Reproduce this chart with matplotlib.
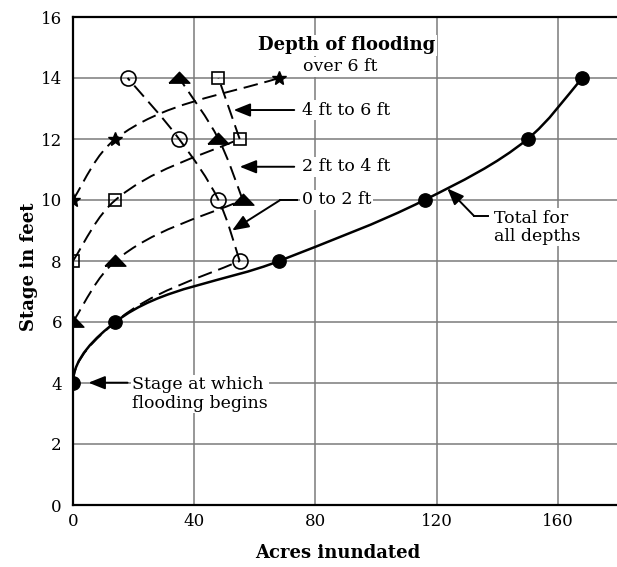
import matplotlib as mpl
mpl.use('Agg')
import numpy as np
import matplotlib.pyplot as plt
from matplotlib.path import Path
from matplotlib.patches import PathPatch

plt.rcParams['font.family'] = ['DejaVu Serif']

# stage (ft) vs acres inundated
total_x = [0, 14, 68, 116, 150, 168]
total_y = [4, 6, 8, 10, 12, 14]

d0_2_x = [0, 14, 55, 48, 35, 18]      # 0 to 2 ft (open circles)
d0_2_y = [4, 6, 8, 10, 12, 14]

d2_4_x = [0, 14, 56, 48, 35]          # 2 ft to 4 ft (triangles)
d2_4_y = [6, 8, 10, 12, 14]

d4_6_x = [0, 14, 55, 48]              # 4 ft to 6 ft (squares)
d4_6_y = [8, 10, 12, 14]

d6_x = [0, 14, 68]                    # over 6 ft (stars)
d6_y = [10, 12, 14]

x_ticks = [0, 40, 80, 120, 160]
y_ticks = [0, 2, 4, 6, 8, 10, 12, 14, 16]

# rough px per data unit, only used so the curve tangents look right on screen
SX, SY = 3.03, 30.5


def unit(v):
    return v / np.hypot(v[0], v[1])


def smooth_path(xs, ys, vertical_start=False, k=0.2):
    p = np.column_stack([np.array(xs, float) * SX, np.array(ys, float) * SY])
    n = len(p)
    chords = [p[i + 1] - p[i] for i in range(n - 1)]
    t = [None] * n
    for i in range(1, n - 1):
        t[i] = unit(unit(chords[i - 1]) + unit(chords[i]))
    if n == 2:
        t[0] = t[1] = unit(chords[0])
    else:
        c0 = unit(chords[0])
        t[0] = unit(c0 + k * (c0 - t[1]))
        c1 = unit(chords[-1])
        t[-1] = unit(c1 + k * (c1 - t[-2]))
    if vertical_start:
        t[0] = np.array([0.0, 1.0])
    verts = [p[0]]
    codes = [Path.MOVETO]
    for i in range(n - 1):
        L = np.hypot(*chords[i]) / 3.0
        verts += [p[i] + t[i] * L, p[i + 1] - t[i + 1] * L, p[i + 1]]
        codes += [Path.CURVE4] * 3
    verts = np.array(verts) / [SX, SY]
    return Path(verts, codes)


def draw_curve(ax, xs, ys, vertical_start=False, **kw):
    k = int(np.argmax(xs))
    pieces = [(xs[:k + 1], ys[:k + 1], vertical_start)]
    if k < len(xs) - 1:
        pieces.append((xs[k:], ys[k:], False))
    for px, py, vs in pieces:
        if len(px) < 2:
            continue
        ax.add_patch(PathPatch(smooth_path(px, py, vs), fill=False, **kw))


fig = plt.figure(figsize=(6.17, 5.67), dpi=100)
ax = fig.add_axes([73 / 617, 62 / 567, 544 / 617, 488 / 567])
ax.set_xlim(0, 179.5)
ax.set_ylim(0, 16)
ax.set_xticks(x_ticks)
ax.set_yticks(y_ticks)
ax.tick_params(length=0, labelsize=12)
ax.tick_params(axis='x', pad=6)
ax.tick_params(axis='y', pad=8)
ax.grid(True, color='#7a7a7a', linewidth=1.1)
ax.set_axisbelow(True)
ax.spines['right'].set_visible(False)
for s in ['left', 'bottom', 'top']:
    ax.spines[s].set_linewidth(1.6)

dash = dict(color='black', linewidth=1.4, linestyle=(0, (7.5, 3.5)), zorder=3)
draw_curve(ax, total_x, total_y, vertical_start=True, color='black', linewidth=1.8, zorder=4)
draw_curve(ax, d0_2_x, d0_2_y, vertical_start=True, **dash)
draw_curve(ax, d2_4_x, d2_4_y, **dash)
draw_curve(ax, d4_6_x, d4_6_y, **dash)
draw_curve(ax, d6_x, d6_y, **dash)

tri = [(-1, -0.45), (1, -0.45), (0, 0.6), (-1, -0.45)]
ax.plot(total_x, total_y, 'o', color='black', ms=9.6, zorder=5)
ax.plot(d0_2_x[2:], d0_2_y[2:], 'o', mfc='none', mec='black', mew=1.2, ms=10.8, zorder=5)
ax.plot(d2_4_x, d2_4_y, marker=tri, ls='none', color='black', ms=15, zorder=5)
ax.plot(d4_6_x, d4_6_y, 's', mfc='none', mec='black', mew=1.2, ms=8.5, zorder=5)
ax.plot(d6_x, d6_y, '*', color='black', ms=10, zorder=5)

box = dict(facecolor='white', edgecolor='none', pad=1)
arrow = dict(arrowstyle='-|>,head_length=1.0,head_width=0.4', color='black',
             lw=1.4, mutation_scale=10, shrinkA=0, shrinkB=0)
fs = 12.5
fb = 13

ax.text(90.4, 15.08, 'Depth of flooding', fontsize=fb, fontweight='bold',
        ha='center', va='center', bbox=box, zorder=6)
ax.text(76, 14.37, 'over 6 ft', fontsize=fs, ha='left', va='center', bbox=box, zorder=6)

ax.text(75.5, 12.95, '4 ft to 6 ft', fontsize=fs, ha='left', va='center', bbox=box, zorder=6)
ax.annotate('', xy=(53, 12.95), xytext=(73, 12.95), arrowprops=arrow, zorder=6)

ax.text(75.5, 11.09, '2 ft to 4 ft', fontsize=fs, ha='left', va='center', bbox=box, zorder=6)
ax.annotate('', xy=(55, 11.09), xytext=(73, 11.09), arrowprops=arrow, zorder=6)

ax.text(75.5, 10.0, '0 to 2 ft', fontsize=fs, ha='left', va='center', bbox=box, zorder=6)
ax.plot([68.4, 74], [10, 10], color='black', lw=1.4, zorder=6)
ax.annotate('', xy=(52.5, 9.0), xytext=(68.4, 10.0), arrowprops=arrow, zorder=6)

ax.text(139, 9.1, 'Total for\nall depths', fontsize=fs, ha='left', va='center',
        linespacing=1.1, bbox=box, zorder=6)
ax.plot([132.3, 137], [9.48, 9.48], color='black', lw=1.4, zorder=6)
ax.annotate('', xy=(123.5, 10.38), xytext=(132.3, 9.48), arrowprops=arrow, zorder=6)

ax.text(19.5, 3.64, 'Stage at which\nflooding begins', fontsize=fs, ha='left', va='center',
        linespacing=1.1, bbox=box, zorder=6)
ax.annotate('', xy=(5.1, 4.01), xytext=(18, 4.01), arrowprops=arrow, zorder=6)

fig.text(338 / 617, 1 - 553 / 567, 'Acres inundated', fontsize=fb, fontweight='bold',
         ha='center', va='center')
fig.text(29 / 617, 1 - 267 / 567, 'Stage in feet', fontsize=fb, fontweight='bold',
         ha='center', va='center', rotation=90)

fig.savefig('out.png', dpi=100)
